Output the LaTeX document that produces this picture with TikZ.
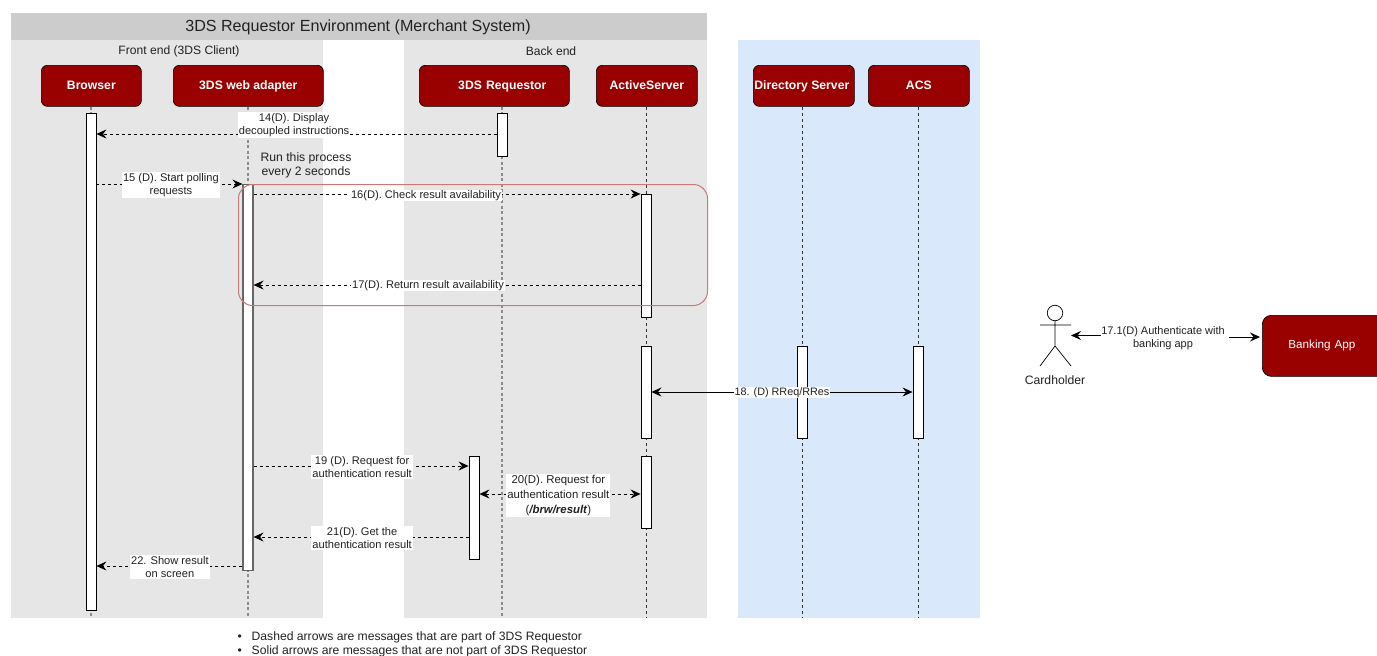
\documentclass[tikz,border=0pt]{standalone}
\usepackage{fontspec}
\setmainfont{Liberation Sans}
\usetikzlibrary{arrows.meta,calc}
\definecolor{panelgray}{HTML}{E6E6E6}
\definecolor{headgray}{HTML}{CCCCCC}
\definecolor{panelblue}{HTML}{DAE8FC}
\definecolor{darkred}{HTML}{990000}
\definecolor{loopred}{HTML}{C87A76}
\definecolor{txt}{HTML}{222222}
\tikzset{
  x=1pt,y=-1pt,
  tipm/.tip={Stealth[length=10pt,width=9pt,inset=3.5pt]},
  actor/.style={fill=darkred,draw=black,line width=.7pt,rounded corners=6pt,text=white,font=\fontsize{12.2}{14}\selectfont\bfseries,minimum height=41,inner sep=0,anchor=north west,text height=9,text depth=2},
  bar/.style={fill=white,draw=black,line width=.9pt,minimum width=10,inner sep=0,anchor=north},
  life/.style={dashed,dash pattern=on 3pt off 3pt,line width=.8pt,black!80},
  lifeg/.style={dash pattern=on 3pt off 2.5pt,line width=1.2pt,black!45},
  msg/.style={dashed,dash pattern=on 3pt off 3pt,line width=.7pt,-tipm,black},
  solidmsg/.style={line width=.8pt,-tipm,black},
  lab/.style={fill=white,inner sep=1pt,align=center,text=txt,font=\fontsize{11.1}{13}\selectfont},
  plain/.style={inner sep=0,align=center,text=txt},
}
\begin{document}
\begin{tikzpicture}
\useasboundingbox (0,0) rectangle (1377,656);
\fill[white] (0,0) rectangle (1377,656);
% panels
\fill[panelgray] (11,40) rectangle (323,618);
\fill[panelgray] (404,40) rectangle (707,618);
\fill[panelblue] (738,40) rectangle (980,618);
\fill[headgray] (11,13) rectangle (707,40);
\node[plain,font=\fontsize{16.1}{18}\selectfont] (title) at (358,27.5) {3DS Requestor Environment (Merchant System)};
\node[plain,font=\fontsize{12.1}{14}\selectfont] (front) at (179,51.5) {Front end (3DS Client)};
\node[plain,font=\fontsize{12.1}{14}\selectfont] (back) at (551,51.5) {Back end};
% actors
\node[actor,minimum width=100] (browser) at (41,65) {Browser};
\node[actor,minimum width=150] (adapter) at (173,65) {3DS web adapter};
\node[actor,minimum width=150,text width=134,align=right] (req) at (419,65) {3DS Requestor\rule{15pt}{0pt}};
\node[actor,minimum width=101] (as) at (596,65) {ActiveServer};
\node[actor,minimum width=101] (ds) at (753,65) {Directory Server\rule{4pt}{0pt}};
\node[actor,minimum width=101] (acs) at (868,65) {ACS};
% life-line ends
\coordinate (browserEnd) at (91,618);
\coordinate (adapterEnd) at (248,618);
\coordinate (reqEnd) at (502,618);
\coordinate (asEnd) at (646,618);
\coordinate (dsEnd) at (802,618);
\coordinate (acsEnd) at (918,618);
\draw[lifeg] (browserEnd |- browser.south) -- (browserEnd);
\draw[lifeg] (adapterEnd |- adapter.south) -- (adapterEnd);
\draw[lifeg] (reqEnd |- req.south) -- (reqEnd);
\draw[life] (asEnd |- as.south) -- (asEnd);
\draw[life] (dsEnd |- ds.south) -- (dsEnd);
\draw[life] (acsEnd |- acs.south) -- (acsEnd);
% activation bars
\node[bar,minimum height=497] (bBrowser) at (91,113) {};
\node[bar,minimum height=385.5,draw=black!60,line width=1.2pt] (bAdapter) at (248,184) {};
\node[bar,minimum height=43] (bReqA) at (502,113) {};
\node[bar,minimum height=103] (bReqB) at (474,456) {};
\node[bar,minimum height=123] (bAsA) at (646,194) {};
\node[bar,minimum height=92] (bAsB) at (646,346) {};
\node[bar,minimum height=72.5] (bAsC) at (646,455.5) {};
\node[bar,minimum height=92] (bDs) at (802,346) {};
\node[bar,minimum height=92] (bAcs) at (918,346) {};
% loop frame
\node[draw=loopred,line width=1pt,rounded corners=14pt,minimum width=469,minimum height=121,inner sep=0,anchor=north west] (loop) at (238,184) {};
\node[plain,font=\fontsize{12.2}{14}\selectfont] (runlab) at (306,165.5) {Run this process\\every 2 seconds};
% messages
\draw[msg] (bReqA.west |- 0,134) -- node[lab,pos=.506,yshift=9pt] {14(D). Display\\decoupled instructions} (bBrowser.east |- 0,134);
\draw[msg] (bBrowser.east |- 0,184) -- node[lab,pos=.51,yshift=-1pt] {15 (D). Start polling\\requests} (bAdapter.west |- 0,184);
\draw[msg] (bAdapter.east |- 0,194) -- (bAsA.west |- 0,194);
\node[lab,inner ysep=0pt] (l16) at (426,195.5) {16(D). Check result availability};
\draw[msg] (bAsA.west |- 0,285) -- (bAdapter.east |- 0,285);
\node[lab,inner ysep=0pt] (l17) at (428,285.5) {17(D). Return result availability};
\draw[solidmsg,tipm-tipm] (bAsB.east |- 0,392) -- node[lab,inner ysep=0pt,pos=.5,yshift=-.5pt,font=\fontsize{10.8}{13}\selectfont] {18. (D) RReq/RRes} (bAcs.west |- 0,392);
\draw[msg] (bAdapter.east |- 0,466) -- node[lab,pos=.505,yshift=-1pt] {19 (D). Request for\\authentication result} (bReqB.west |- 0,466);
\draw[msg,tipm-tipm] (bReqB.east |- 0,494) -- node[lab,pos=.49,yshift=-1.5pt,font=\fontsize{11.4}{15}\selectfont] {20(D). Request for\\authentication result\\(\textit{\textbf{/brw/result}})} (bAsC.west |- 0,494);
\draw[msg] (bReqB.west |- 0,537) -- node[lab,pos=.495,yshift=-1pt] {21(D). Get the\\authentication result} (bAdapter.east |- 0,537);
\draw[msg] (bAdapter.west |- 0,566) -- node[lab,pos=.497,yshift=-1pt] {22. Show result\\on screen} (bBrowser.east |- 0,566);
% cardholder
\node[circle,draw=black,fill=white,line width=.7pt,minimum size=15.5,inner sep=0] (head) at (1055,313) {};
\coordinate (hip) at (1055,346);
\coordinate (armL) at (1040,325);
\coordinate (armR) at (1071,325);
\coordinate (footL) at (1040,366);
\coordinate (footR) at (1071,366);
\draw[line width=.7pt] (head.south) -- (hip) (armL) -- (armR) (footL) -- (hip) -- (footR);
\node[plain,font=\fontsize{12.2}{14}\selectfont] (card) at (1055,380) {Cardholder};
\node[fill=darkred,draw=black,line width=.7pt,rounded corners=9pt,text=white,font=\fontsize{11.7}{13}\selectfont,minimum width=125,minimum height=61,inner sep=0,anchor=north west,text width=123,align=left,yshift=-1.5pt] (bank) at (1262,313.5) {\hspace{25pt}Banking App};
\coordinate (cardR) at (1071,335.5);
\node[plain,font=\fontsize{11}{13}\selectfont] (l171) at (1163,338) {17.1(D) Authenticate with\\banking app};
\draw[solidmsg] (l171.west |- 0,335.5) -- (cardR);
\draw[solidmsg] (l171.east |- 0,337) ++(4,0) -- ([xshift=-2pt]bank.west |- 0,337);
% notes
\node[plain,anchor=west,font=\fontsize{12.15}{14}\selectfont,align=left] (n1) at (237.5,637.5) {\textbullet\hspace{9.75pt}Dashed arrows are messages that are part of 3DS Requestor};
\node[plain,anchor=west,font=\fontsize{12.15}{14}\selectfont,align=left] (n2) at (237.5,651.5) {\textbullet\hspace{9.75pt}Solid arrows are messages that are not part of 3DS Requestor};
\end{tikzpicture}
\end{document}
